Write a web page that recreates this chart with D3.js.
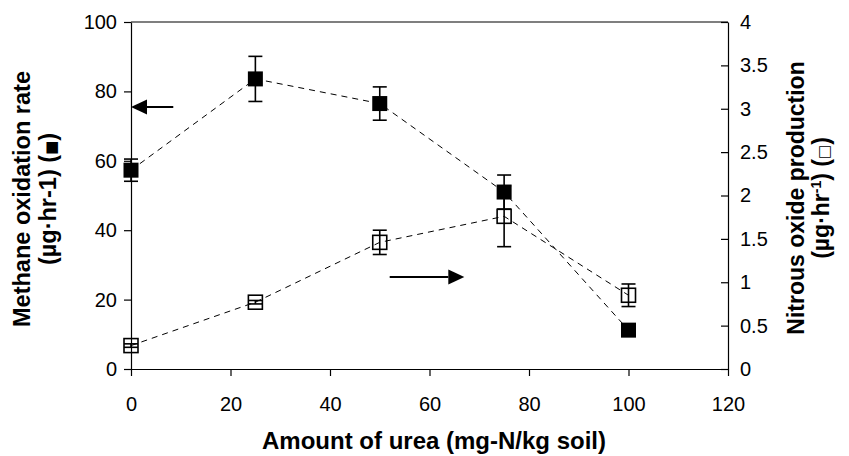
<!DOCTYPE html>
<html>
<head>
<meta charset="utf-8">
<script src="https://cdn.jsdelivr.net/npm/d3@7"></script>
<style>
  html, body { margin: 0; padding: 0; background: #fff; }
  svg { display: block; font-family: "Liberation Sans", Arial, sans-serif; }
  .axis path, .axis line { stroke: #000; stroke-width: 1.2; }
  .axis text { font-size: 20px; fill: #000; }
  .title { font-weight: bold; font-size: 23.5px; fill: #000; }
  .glyph { font-family: "DejaVu Sans", sans-serif; font-weight: normal; font-size: 15px; fill: #000; }
</style>
</head>
<body>
<svg id="chart" width="849" height="456"></svg>
<script>
// Urea dose (mg-N/kg soil)
const urea = [0, 25, 50, 75, 100];
// Methane oxidation rate (µg·hr-1), left axis, with error half-widths
const methane = [57.3, 83.6, 76.5, 51.0, 11.2];
const methaneErr = [3.2, 6.5, 4.8, 4.9, 0.6];
// Nitrous oxide production (µg·hr-1), right axis, with error half-widths
const nitrous = [0.27, 0.77, 1.46, 1.76, 0.85];
const nitrousErr = [0.02, 0.02, 0.14, 0.35, 0.13];

// Tick values
const xTicks = [0, 20, 40, 60, 80, 100, 120];
const leftTicks = [0, 20, 40, 60, 80, 100];
const rightTicks = [0, 0.5, 1, 1.5, 2, 2.5, 3, 3.5, 4];

// Arrows pointing to each series' axis (x range, left-axis level)
const arrowToLeft = { x0: 8.5, x1: 0, y: 75.5 };
const arrowToRight = { x0: 52, x1: 67, y: 26.5 };

const svg = d3.select("#chart");
const plotLeft = 131, plotRight = 728, plotTop = 22, plotBottom = 369;

const x = d3.scaleLinear().domain([0, 120]).range([plotLeft, plotRight]);
const yL = d3.scaleLinear().domain([0, 100]).range([plotBottom, plotTop]);
const yR = d3.scaleLinear().domain([0, 4]).range([plotBottom, plotTop]);

// Plot frame top edge
svg.append("line")
  .attr("x1", plotLeft).attr("x2", plotRight).attr("y1", plotTop).attr("y2", plotTop)
  .attr("stroke", "#000").attr("stroke-width", 1.2);

// Axes
svg.append("g").attr("class", "axis")
  .attr("transform", `translate(0,${plotBottom})`)
  .call(d3.axisBottom(x).tickValues(xTicks).tickSize(7).tickSizeOuter(0).tickPadding(21).tickFormat(d3.format("d")));

svg.append("g").attr("class", "axis")
  .attr("transform", `translate(${plotLeft},0)`)
  .call(d3.axisLeft(yL).tickValues(leftTicks).tickSize(7).tickSizeOuter(0).tickPadding(7).tickFormat(d3.format("d")));

svg.append("g").attr("class", "axis")
  .attr("transform", `translate(${plotRight},0)`)
  .call(d3.axisRight(yR).tickValues(rightTicks).tickSize(-7).tickSizeOuter(0).tickPadding(12).tickFormat(d => String(d)));

svg.selectAll(".axis .domain").attr("stroke-width", 1.5);

// Dashed connecting lines
const methaneLine = d3.line().x((d, i) => x(urea[i])).y(d => yL(d));
const nitrousLine = d3.line().x((d, i) => x(urea[i])).y(d => yR(d));

svg.append("path").datum(methane).attr("d", methaneLine)
  .attr("fill", "none").attr("stroke", "#000").attr("stroke-width", 1).attr("stroke-dasharray", "6,5");
svg.append("path").datum(nitrous).attr("d", nitrousLine)
  .attr("fill", "none").attr("stroke", "#000").attr("stroke-width", 1).attr("stroke-dasharray", "6,5");

// Error bars
function errorBars(values, errs, y) {
  const g = svg.append("g").attr("stroke", "#000").attr("stroke-width", 1.6);
  values.forEach((v, i) => {
    const cx = x(urea[i]);
    const hi = y(v + errs[i]), lo = y(v - errs[i]);
    g.append("line").attr("x1", cx).attr("x2", cx).attr("y1", hi).attr("y2", lo);
    g.append("line").attr("x1", cx - 7).attr("x2", cx + 7).attr("y1", hi).attr("y2", hi);
    g.append("line").attr("x1", cx - 7).attr("x2", cx + 7).attr("y1", lo).attr("y2", lo);
  });
}
errorBars(methane, methaneErr, yL);
errorBars(nitrous, nitrousErr, yR);

// Markers
const s = 15;
svg.append("g").selectAll("rect").data(methane).join("rect")
  .attr("x", (d, i) => x(urea[i]) - s / 2).attr("y", d => yL(d) - s / 2)
  .attr("width", s).attr("height", s).attr("fill", "#000");

const so = 14;
svg.append("g").selectAll("rect").data(nitrous).join("rect")
  .attr("x", (d, i) => x(urea[i]) - so / 2).attr("y", d => yR(d) - so / 2)
  .attr("width", so).attr("height", so)
  .attr("fill", "none").attr("stroke", "#000").attr("stroke-width", 1.6);

// Arrows
function arrow(a) {
  const x0 = x(a.x0), x1 = x(a.x1), yy = yL(a.y);
  const dir = Math.sign(x1 - x0);
  const headLen = 16, headHalf = 7.5;
  svg.append("line").attr("x1", x0).attr("x2", x1 - dir * headLen).attr("y1", yy).attr("y2", yy)
    .attr("stroke", "#000").attr("stroke-width", 2);
  svg.append("path")
    .attr("d", `M${x1},${yy} L${x1 - dir * headLen},${yy - headHalf} L${x1 - dir * headLen},${yy + headHalf} Z`)
    .attr("fill", "#000");
}
arrow(arrowToLeft);
arrow(arrowToRight);

// Axis titles
svg.append("text").attr("class", "title")
  .attr("x", 434).attr("y", 449).attr("text-anchor", "middle")
  .style("font-size", "24px")
  .text("Amount of urea (mg-N/kg soil)");

const lt = svg.append("g").attr("transform", "translate(0,199) rotate(-90)");
lt.append("text").attr("class", "title").attr("x", 0).attr("y", 30).attr("text-anchor", "middle")
  .text("Methane oxidation rate");
const l2 = lt.append("text").attr("class", "title").attr("x", 0).attr("y", 56).attr("text-anchor", "middle");
l2.append("tspan").text("(µg·hr-1) (");
l2.append("tspan").attr("class", "glyph").text("■");
l2.append("tspan").text(")");

const rt = svg.append("g").attr("transform", "translate(0,198) rotate(-90)");
rt.append("text").attr("class", "title").attr("x", 0).attr("y", 804).attr("text-anchor", "middle")
  .style("font-size", "23px")
  .text("Nitrous oxide production");
const r2 = rt.append("text").attr("class", "title").attr("x", 0).attr("y", 829).attr("text-anchor", "middle")
  .style("font-size", "23px");
r2.append("tspan").text("(µg·hr");
r2.append("tspan").attr("baseline-shift", "super").attr("font-size", "14px").text("-1");
r2.append("tspan").text(") (");
r2.append("tspan").attr("class", "glyph").text("□");
r2.append("tspan").text(")");
</script>
</body>
</html>
